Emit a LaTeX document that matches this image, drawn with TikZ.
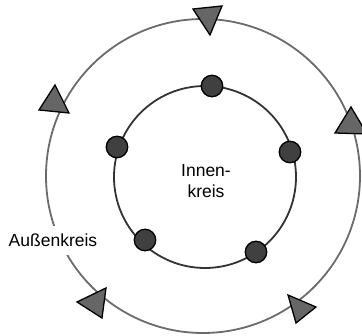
\documentclass[tikz,border=0pt]{standalone}
\usepackage{fontspec}
\setmainfont{Liberation Sans}
\begin{document}
\begin{tikzpicture}[x={(1pt,0)},y={(0,-1pt)},
  outer/.style={draw=black!58,line width=1.8pt},
  inner/.style={draw=black!80,line width=1.8pt},
  dot/.style={circle,draw=black,line width=1.3pt,fill=black!75,minimum size=21.5pt,inner sep=0pt},
  tri/.style={draw=black,line width=1.3pt,fill=black!60,line join=miter},
  lbl/.style={font=\fontsize{17.5}{21}\selectfont,text=black}]
\useasboundingbox (0,0) rectangle (362,336);
\coordinate (O) at (203,176);
\coordinate (I) at (205,177);
\draw[outer] (O) circle[radius=157pt];
\draw[inner] (I) circle[radius=91pt];
\node[lbl,fill=white,inner xsep=2pt,inner ysep=8pt,anchor=base] (aussen) at (53,247) {Außenkreis};
\node[lbl,align=center] (innen) at (206,181) {Innen-\\kreis};
% dots on the inner circle
\node[dot] (d1) at (212,86) {};
\node[dot] (d2) at (290,152) {};
\node[dot] (d3) at (256,252) {};
\node[dot] (d4) at (145,240) {};
\node[dot] (d5) at (117,147) {};
% triangles on the outer circle
\draw[tri] (193,9) -- (222,6) -- (210,35) -- cycle;
\draw[tri] (335,133) -- (351,107) -- (367,134) -- cycle;
\draw[tri] (288,295) -- (296,323) -- (316,307) -- cycle;
\draw[tri] (106,288) -- (77,302) -- (102,318) -- cycle;
\draw[tri] (55,85) -- (39,110) -- (69,113) -- cycle;
\end{tikzpicture}
\end{document}
